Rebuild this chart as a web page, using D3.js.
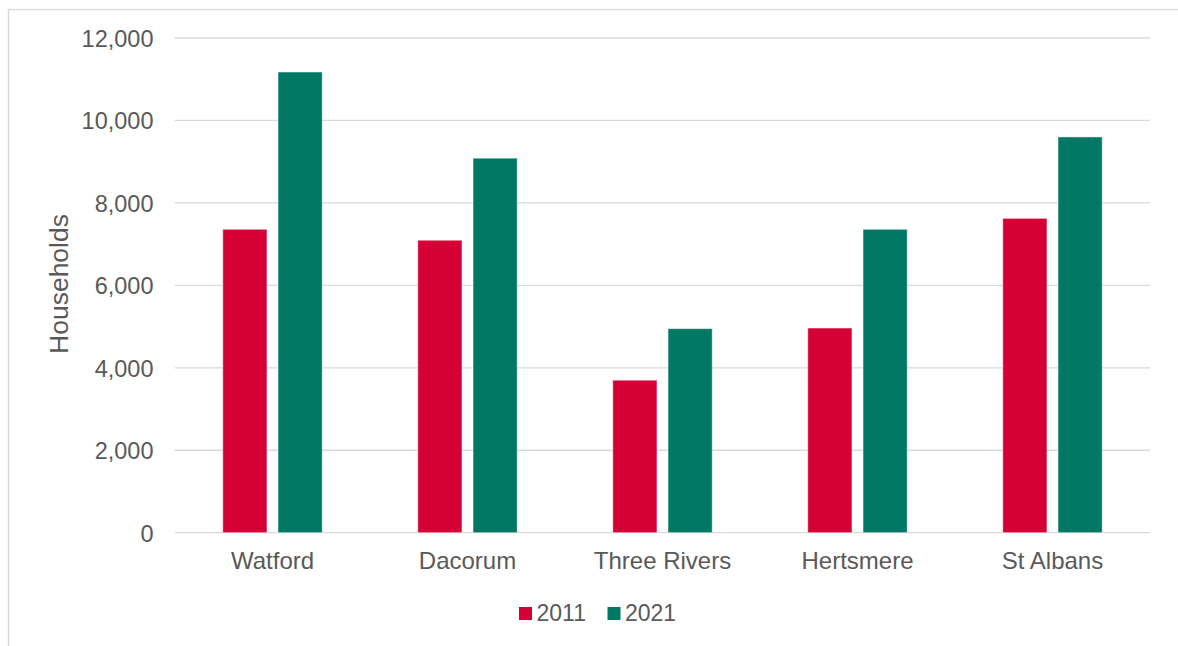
<!DOCTYPE html>
<html>
<head>
<meta charset="utf-8">
<script src="https://cdn.jsdelivr.net/npm/d3@7/dist/d3.min.js"></script>
<style>
html, body { margin: 0; padding: 0; background: #fff; }
svg { display: block; font-family: "Liberation Sans", Arial, sans-serif; }
</style>
</head>
<body>
<svg id="chart" width="1178" height="646"></svg>
<script>
const categories = ["Watford", "Dacorum", "Three Rivers", "Hertsmere", "St Albans"];
const seriesNames = ["2011", "2021"];
const values2011 = [7360, 7095, 3700, 4965, 7625];
const values2021 = [11175, 9085, 4950, 7360, 9600];
const yTicks = [0, 2000, 4000, 6000, 8000, 10000, 12000];
const colors = ["#d40036", "#007864"];
const yTitle = "Households";

const svg = d3.select("#chart");
const W = 1178, H = 646;
const plot = { left: 175, right: 1150, top: 38, bottom: 532.7 };

// outer frame
svg.append("rect").attr("x", 8.5).attr("y", 9.5).attr("width", W + 10).attr("height", H + 10)
  .attr("fill", "none").attr("stroke", "#d9d9d9").attr("stroke-width", 1.3);

const x0 = d3.scaleBand().domain(categories).range([plot.left, plot.right]).paddingInner(0.49).paddingOuter(0.245);
const x1 = d3.scaleBand().domain(seriesNames).range([0, x0.bandwidth()]).paddingInner(0.2);
const y = d3.scaleLinear().domain([0, 12000]).range([plot.bottom, plot.top]);

// gridlines
svg.append("g").selectAll("line").data(yTicks).join("line")
  .attr("x1", plot.left).attr("x2", plot.right)
  .attr("y1", d => y(d)).attr("y2", d => y(d))
  .attr("stroke", "#d9d9d9").attr("stroke-width", 1.3);

// y axis labels
const yAxis = d3.axisLeft(y).tickValues(yTicks).tickFormat(d3.format(",")).tickSize(0).tickPadding(0);
const ya = svg.append("g").attr("transform", `translate(${plot.left - 21.5},0)`).call(yAxis);
ya.select(".domain").remove();
ya.selectAll("text").attr("fill", "#595959").style("font-size", "23.5px")
  .style("font-family", "'Liberation Sans', Arial, sans-serif").attr("dy", "0.36em");

// x axis labels
const xAxis = d3.axisBottom(x0).tickSize(0).tickPadding(0);
const xa = svg.append("g").attr("transform", `translate(0,${plot.bottom})`).call(xAxis);
xa.select(".domain").remove();
xa.selectAll("text").attr("fill", "#595959").style("font-size", "24px")
  .style("font-family", "'Liberation Sans', Arial, sans-serif").attr("y", 36.8).attr("dy", 0);

// bars
const data = categories.map((c, i) => ({ cat: c, vals: [values2011[i], values2021[i]] }));
const groups = svg.append("g").selectAll("g").data(data).join("g")
  .attr("transform", d => `translate(${x0(d.cat)},0)`);
groups.selectAll("rect").data(d => d.vals.map((v, j) => ({ key: seriesNames[j], v, j }))).join("rect")
  .attr("x", d => x1(d.key)).attr("width", x1.bandwidth())
  .attr("y", d => y(d.v)).attr("height", d => y(0) - y(d.v))
  .attr("fill", d => colors[d.j])
  .attr("stroke", "#ffffff").attr("stroke-opacity", 0.5).attr("stroke-width", 1);

// y title
svg.append("text").attr("transform", `translate(67.5,284) rotate(-90)`)
  .attr("text-anchor", "middle").attr("fill", "#595959").style("font-size", "26.5px")
  .text(yTitle);

// legend
const legendItems = [{ name: seriesNames[0], x: 519 }, { name: seriesNames[1], x: 607.5 }];
const lg = svg.append("g");
legendItems.forEach((it, i) => {
  lg.append("rect").attr("x", it.x).attr("y", 607).attr("width", 13).attr("height", 13).attr("fill", colors[i]);
  lg.append("text").attr("x", it.x + 17.5).attr("y", 621).attr("fill", "#595959")
    .style("font-size", "23px").text(it.name);
});
</script>
</body>
</html>
